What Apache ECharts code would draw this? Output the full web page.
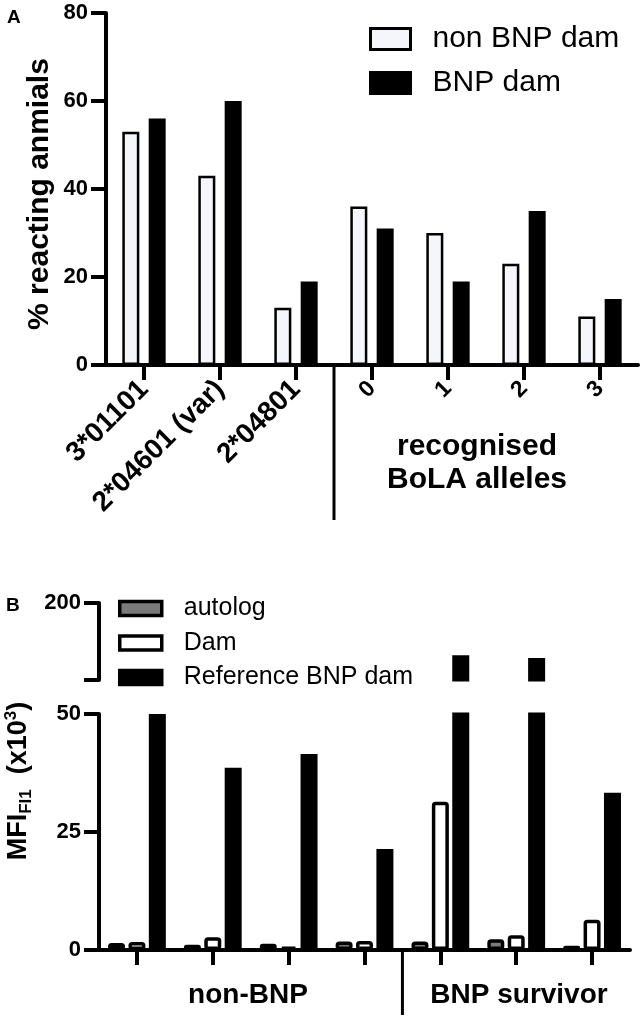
<!DOCTYPE html>
<html style="height: 100%">
<head>
<meta charset="utf-8">
</head>
<body style="height: 100%; margin: 0; background: #fff">
<div id="container" style="width: 641px; height: 1021px"></div>
<script type="text/javascript" src="https://cdn.jsdelivr.net/npm/echarts@6/dist/echarts.min.js"></script>
<script type="text/javascript">
// panel A - % reacting animals per allele / number of recognised alleles
var alleles = ['3*01101', '2*04601 (var)', '2*04801', '0', '1', '2', '3'];
var nonBnpDam = [53, 43, 13, 36, 30, 23, 11];
var bnpDam = [56, 60, 19, 31, 19, 35, 15];
var ticksA = [0, 20, 40, 60, 80];

// panel B - MFI (x10^3), 4 non-BNP and 3 BNP survivor calves
var calves = ['1', '2', '3', '4', '5', '6', '7'];
var autolog = [1.5, 1.1, 1.3, 1.8, 1.8, 2.3, 0.9];
var dam = [1.7, 2.7, 0.7, 1.9, 31.4, 3.1, 6.4];
var refBnpDam = [50, 38.6, 41.5, 21.4, 98, 93, 33.3];
var ticksBLow = [0, 25, 50];
var ticksBHigh = [50, 200];

var font = 'Liberation Sans, Arial, sans-serif';
var gA = {left: 106, top: 13, width: 532, height: 352};
var gBu = {left: 99, top: 603, width: 531, height: 77};
var gBl = {left: 99, top: 714, width: 531, height: 236};

var dom = document.getElementById('container');
var myChart = echarts.init(dom);

function valueAxis(grid, ticks, showLabel) {
	return {
		type: 'value',
		gridIndex: grid,
		min: ticks[0],
		max: ticks[ticks.length - 1],
		interval: ticks[1] - ticks[0],
		splitLine: {show: false},
		axisLine: {show: true, lineStyle: {color: '#000', width: 4}},
		axisTick: {show: true, length: 15, lineStyle: {color: '#000', width: 4}},
		axisLabel: {
			show: true,
			margin: 18,
			color: '#000',
			fontFamily: font,
			fontWeight: 'bold',
			fontSize: 22,
			formatter: showLabel
		}
	};
}

function catAxis(grid, cats, show) {
	return {
		type: 'category',
		gridIndex: grid,
		data: cats,
		show: show,
		axisLine: {show: true, lineStyle: {color: '#000', width: 4}},
		axisTick: {show: true, alignWithLabel: true, length: 15, lineStyle: {color: '#000', width: 4}},
		axisLabel: {show: false}
	};
}

var xA = catAxis(0, alleles.map(function (a, i) {
	return {value: a, textStyle: {fontSize: i < 3 ? 28 : 23}};
}), true);
xA.axisLabel = {
	show: true,
	rotate: 45,
	margin: 20,
	interval: 0,
	color: '#000',
	fontFamily: font,
	fontWeight: 'bold'
};

var blackStyle = {color: '#000', borderColor: '#000', borderWidth: 3};
var autologStyle = {color: '#7a7a7a', borderColor: '#000', borderWidth: 3.5, borderRadius: 2};
var damStyle = {color: '#fff', borderColor: '#000', borderWidth: 3.5, borderRadius: 2};

function bSeries(xi, yi) {
	return [
		{name: 'autolog', type: 'bar', clip: true, xAxisIndex: xi, yAxisIndex: yi, data: autolog,
			barWidth: 17, barGap: '20%', itemStyle: autologStyle},
		{name: 'Dam', type: 'bar', clip: true, xAxisIndex: xi, yAxisIndex: yi, data: dam,
			barWidth: 17, barGap: '20%', itemStyle: damStyle},
		{name: 'Reference BNP dam', type: 'bar', clip: true, xAxisIndex: xi, yAxisIndex: yi, data: refBnpDam,
			barWidth: 17, barGap: '20%', itemStyle: blackStyle}
	];
}

var divAx = gA.left + gA.width * 3 / 7;
var divBx = gBl.left + gBl.width * 4 / 7;
var axisAy = gA.top + gA.height;
var axisBy = gBl.top + gBl.height;

var option = {
	animation: false,
	backgroundColor: '#fff',
	textStyle: {fontFamily: font},
	grid: [gA, gBu, gBl],
	xAxis: [xA, catAxis(1, calves, false), catAxis(2, calves, true)],
	yAxis: [
		valueAxis(0, ticksA),
		valueAxis(1, ticksBHigh, function (v) { return v === 200 ? '200' : ''; }),
		valueAxis(2, ticksBLow)
	],
	legend: [{
		orient: 'vertical',
		left: 369,
		top: 24,
		icon: 'rect',
		itemWidth: 40,
		itemHeight: 21,
		itemGap: 14,
		padding: 0,
		data: [
			{name: 'non BNP dam', itemStyle: {borderWidth: 3, borderColor: '#000'}},
			{name: 'BNP dam', itemStyle: {borderWidth: 3, borderColor: '#000'}}
		],
		textStyle: {fontSize: 30, lineHeight: 30, color: '#000', fontFamily: font, padding: [0, 0, 0, 17]}
	}, {
		orient: 'vertical',
		left: 118,
		top: 596,
		icon: 'rect',
		itemWidth: 42,
		itemHeight: 14,
		itemGap: 9.5,
		padding: 0,
		data: [
			{name: 'autolog', itemStyle: {borderWidth: 3.5, borderColor: '#000'}},
			{name: 'Dam', itemStyle: {borderWidth: 3.5, borderColor: '#000'}},
			{name: 'Reference BNP dam', itemStyle: {borderWidth: 3.5, borderColor: '#000'}}
		],
		textStyle: {fontSize: 25, lineHeight: 25, color: '#000', fontFamily: font, padding: [0, 0, 0, 17]}
	}],
	series: [
		{name: 'non BNP dam', type: 'bar', xAxisIndex: 0, yAxisIndex: 0, data: nonBnpDam,
			barWidth: 17, barGap: '55%', itemStyle: {color: '#f5f5fc', borderColor: '#000', borderWidth: 2.5}},
		{name: 'BNP dam', type: 'bar', xAxisIndex: 0, yAxisIndex: 0, data: bnpDam,
			barWidth: 17, barGap: '55%', itemStyle: {color: '#000', borderColor: '#000', borderWidth: 2.5}}
	].concat(bSeries(2, 2), bSeries(1, 1)),
	graphic: [
		{type: 'text', left: 7, top: 8, style: {text: 'A', fontSize: 19, fontWeight: 'bold', fontFamily: font, fill: '#000'}},
		{type: 'text', left: 6, top: 596, style: {text: 'B', fontSize: 19, fontWeight: 'bold', fontFamily: font, fill: '#000'}},
		{type: 'text', x: 40, y: 194, rotation: Math.PI / 2,
			style: {text: '% reacting anmials', fontSize: 30, fontWeight: 'bold', fontFamily: font, fill: '#000',
				align: 'center', verticalAlign: 'middle'}},
		{type: 'text', x: 19, y: 781, rotation: Math.PI / 2,
			style: {
				text: '{m|MFI}{s|FI1}{m|  (x10}{p|3}{m|)}',
				align: 'center', verticalAlign: 'middle',
				rich: {
					m: {fontSize: 27, fontWeight: 'bold', fontFamily: font, lineHeight: 32, fill: '#000'},
					s: {fontSize: 17, fontWeight: 'bold', fontFamily: font, lineHeight: 17, verticalAlign: 'bottom', fill: '#000'},
					p: {fontSize: 17, fontWeight: 'bold', fontFamily: font, lineHeight: 17, verticalAlign: 'top', fill: '#000'}
				}
			}},
		{type: 'text', x: 477, y: 463,
			style: {text: 'recognised\nBoLA alleles', fontSize: 30, lineHeight: 33, fontWeight: 'bold', fontFamily: font,
				fill: '#000', align: 'center', verticalAlign: 'middle'}},
		{type: 'text', x: 248, y: 995,
			style: {text: 'non-BNP', fontSize: 28, fontWeight: 'bold', fontFamily: font,
				fill: '#000', align: 'center', verticalAlign: 'middle'}},
		{type: 'text', x: 519, y: 995,
			style: {text: 'BNP survivor', fontSize: 28, fontWeight: 'bold', fontFamily: font,
				fill: '#000', align: 'center', verticalAlign: 'middle'}},
		{type: 'line', shape: {x1: divAx, y1: axisAy, x2: divAx, y2: axisAy + 155},
			style: {stroke: '#000', lineWidth: 3}},
		{type: 'line', shape: {x1: divBx, y1: axisBy, x2: divBx, y2: axisBy + 65},
			style: {stroke: '#000', lineWidth: 3}}
	]
};

myChart.setOption(option);
</script>
</body>
</html>
